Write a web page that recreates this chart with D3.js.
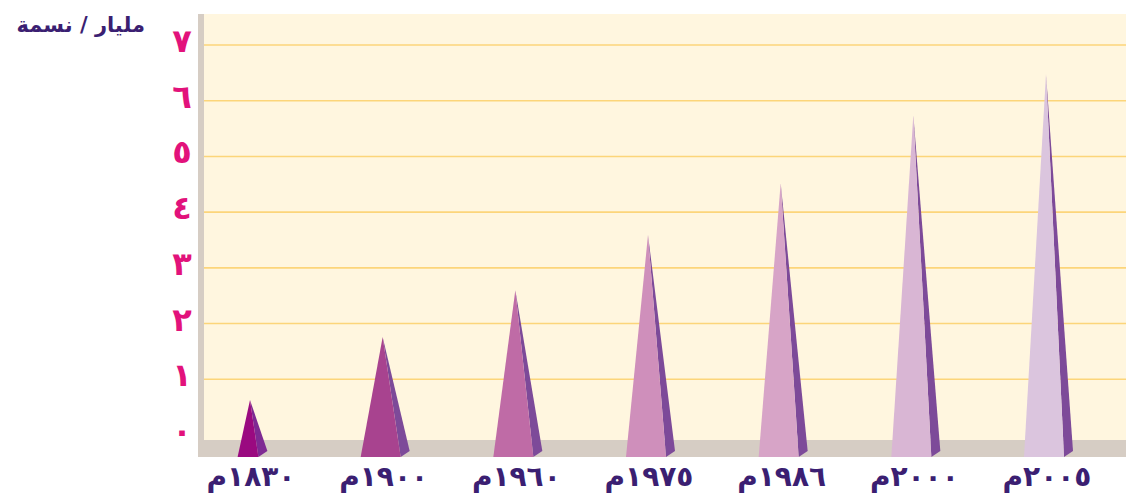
<!DOCTYPE html>
<html>
<head>
<meta charset="utf-8">
<script src="https://cdn.jsdelivr.net/npm/d3@7"></script>
<style>
  body { margin: 0; background: #fff; }
  svg { display: block; }
  text { font-family: "DejaVu Sans", sans-serif; font-weight: bold; }
</style>
</head>
<body>
<div id="chart"></div>
<script>
"use strict";
// data (billion people)
const years = ["١٨٣٠", "١٩٠٠", "١٩٦٠", "١٩٧٥", "١٩٨٦", "٢٠٠٠", "٢٠٠٥"];
const population = [0.63, 1.76, 2.6, 3.59, 4.52, 5.74, 6.48];
const yTicks = [0, 1, 2, 3, 4, 5, 6, 7];
const yTickLabels = ["٠", "١", "٢", "٣", "٤", "٥", "٦", "٧"];
const frontColors = ["#9a0a80", "#a8438f", "#bf6ba6", "#cf8fbb", "#d7a4c7", "#d9b6d4", "#dbc5de"];
const sideColors = ["#7e2a93", "#7d4a99", "#7d4a99", "#7d4a99", "#7d4a99", "#7d4a99", "#7d4a99"];

const W = 1126, H = 503;
const plot = { left: 204, top: 14, right: 1126, floorTop: 440, floorBottom: 457 };

const svg = d3.select("#chart").append("svg")
    .attr("width", W)
    .attr("height", H)
    .attr("viewBox", `0 0 ${W} ${H}`);

const y = d3.scaleLinear().domain([0, 7]).range([435, 45]);
const x = d3.scalePoint().domain(years).range([248, 1044]);

// background panel, wall and floor
svg.append("rect")
    .attr("x", plot.left).attr("y", plot.top)
    .attr("width", plot.right - plot.left).attr("height", plot.floorTop - plot.top)
    .attr("fill", "#fff6df");
svg.append("rect")
    .attr("x", 198).attr("y", plot.top)
    .attr("width", plot.left - 198).attr("height", plot.floorBottom - plot.top)
    .attr("fill", "#d6cdc4");
svg.append("rect")
    .attr("x", 198).attr("y", plot.floorTop)
    .attr("width", plot.right - 198).attr("height", plot.floorBottom - plot.floorTop)
    .attr("fill", "#d6cdc4");

// gridlines
svg.append("g").selectAll("line")
    .data(yTicks.filter(d => d > 0))
    .join("line")
    .attr("x1", plot.left).attr("x2", plot.right)
    .attr("y1", d => y(d)).attr("y2", d => y(d))
    .attr("stroke", "#fcd57a")
    .attr("stroke-width", 1.6);

// y tick labels
svg.append("g").selectAll("text")
    .data(yTicks)
    .join("text")
    .attr("x", 182)
    .attr("y", d => y(d) + 7)
    .attr("text-anchor", "middle")
    .attr("fill", "#e2127b")
    .attr("font-size", 32)
    .text((d, i) => yTickLabels[i]);

// unit title
svg.append("text")
    .attr("x", 145).attr("y", 32)
    .attr("text-anchor", "start")
    .attr("direction", "rtl")
    .attr("fill", "#3b1f72")
    .attr("font-size", 21)
    .text("مليار / نسمة");

// pyramids
const pyr = svg.append("g").selectAll("g")
    .data(years.map((yr, i) => ({ yr, v: population[i], i })))
    .join("g");

const baseWidth = d => Math.min(40, d.v * 33);
const depth = 9;

pyr.append("path")
    .attr("fill", d => sideColors[d.i])
    .attr("d", d => {
        const c = x(d.yr), w = baseWidth(d);
        const r = c + w / 2;
        return `M${c + 2},${y(d.v)} L${r},${plot.floorBottom} L${r + depth},${plot.floorBottom - 6} Z`;
    });

pyr.append("path")
    .attr("fill", d => frontColors[d.i])
    .attr("d", d => {
        const c = x(d.yr), w = baseWidth(d);
        return `M${c + 2},${y(d.v)} L${c - w / 2},${plot.floorBottom} L${c + w / 2},${plot.floorBottom} Z`;
    });

// x labels
svg.append("g").selectAll("text")
    .data(years)
    .join("text")
    .attr("x", d => x(d) + 3)
    .attr("y", 486)
    .attr("text-anchor", "middle")
    .attr("direction", "rtl")
    .attr("fill", "#3b1f72")
    .attr("font-size", 28)
    .attr("letter-spacing", 5)
    .text(d => d + "م");
</script>
</body>
</html>
